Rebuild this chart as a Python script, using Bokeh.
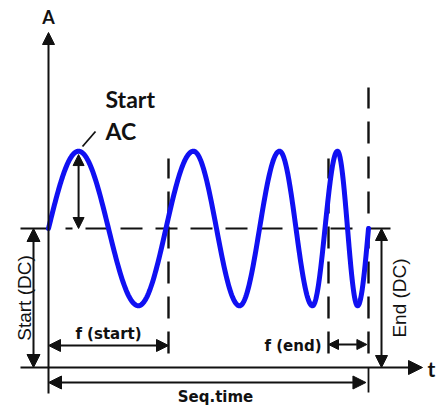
import numpy as np
from bokeh.plotting import figure
from bokeh.models import Range1d, Arrow, NormalHead
from bokeh.core.properties import value
from bokeh.embed import file_html
from bokeh.resources import INLINE

# ---------------- data ----------------
seq_time = 10.0          # sequence time (t units)
start_dc = 5.0           # start DC level (A units)
end_dc = 5.0             # end DC level
start_ac = 2.78          # start AC amplitude
f_start_period = 3.75    # one period at start frequency
f_end_period = 1.25      # one period at end frequency
extrema_t = [0.94, 2.81, 4.53, 5.97, 7.22, 8.25, 9.03, 9.66]   # peaks / troughs of the wave
extrema_sign = [1, -1, 1, -1, 1, -1, 1, -1]
axis_labels = ["A", "t"]
ac_labels = ["Start", "AC"]
dc_labels = ["Start (DC)", "End (DC)"]
time_labels = ["f (start)", "f (end)", "Seq.time"]

# ---------------- layout ----------------
W, H = 437, 406
PX_T, PX_A = 32.0, 27.8
OX, OY = 48, 367          # pixel of the origin inside the figure


def tx(px):
    return (px - OX) / PX_T


def ay(py):
    return (OY - py) / PX_A


x0 = tx(0)
x1 = x0 + W / PX_T
y1 = ay(0)
y0 = y1 - H / PX_A

p = figure(width=W, height=H, x_range=Range1d(x0, x1), y_range=Range1d(y0, y1),
           output_backend="svg", toolbar_location=None,
           x_axis_location=None, y_axis_location=None, min_border=0,
           outline_line_color=None, background_fill_color="white",
           border_fill_color="white")
p.xgrid.visible = False
p.ygrid.visible = False

BLACK = "#111111"
BLUE = "#1010f2"


def head(size):
    return NormalHead(size=size, fill_color=BLACK, line_color=BLACK, line_width=1)


def arrow(xs, ys, xe, ye, size, both=True, lw=2):
    p.add_layout(Arrow(start=head(size) if both else None, end=head(size),
                       x_start=xs, y_start=ys, x_end=xe, y_end=ye,
                       line_color=BLACK, line_width=lw))


# ---------------- wave ----------------
ts, ys = [], []
n = 60
tt = np.linspace(0, extrema_t[0], n)
ts += list(tt)
ys += list(start_dc + start_ac * np.sin(np.pi / 2 * tt / extrema_t[0]))
for i in range(len(extrema_t) - 1):
    ta, tb = extrema_t[i], extrema_t[i + 1]
    tt = np.linspace(ta, tb, n)[1:]
    ts += list(tt)
    ys += list(start_dc + start_ac * extrema_sign[i] * np.cos(np.pi * (tt - ta) / (tb - ta)))
ta = extrema_t[-1]
tt = np.linspace(ta, seq_time, n)[1:]
ts += list(tt)
ys += list(end_dc + start_ac * extrema_sign[-1] * np.cos(np.pi / 2 * (tt - ta) / (seq_time - ta)))

# ---------------- black construction lines ----------------
# DC level dashed
p.line([tx(65), tx(352)], [start_dc, start_dc], line_color=BLACK, line_width=2.2,
       line_dash="22 13", line_dash_offset=15)
# DC ticks
p.segment(x0=[tx(20), seq_time], y0=[start_dc, end_dc], x1=[0, tx(390)], y1=[start_dc, end_dc],
          line_color=BLACK, line_width=2)
# vertical dashed markers
vx = [f_start_period, seq_time - f_end_period, seq_time]
vtop = [ay(158), ay(158), ay(87)]
for x, top in zip(vx, vtop):
    p.line([x, x], [ay(353), top], line_color=BLACK, line_width=2.4, line_dash="22 13")
# seq end tick
p.segment(x0=[seq_time], y0=[0], x1=[seq_time], y1=[ay(392)], line_color=BLACK, line_width=1.8)
# leader for Start AC
p.segment(x0=[tx(82)], y0=[ay(146)], x1=[tx(95)], y1=[ay(131)], line_color=BLACK, line_width=1.8)

# axes
arrow(0, ay(393), 0, ay(32), 12, both=False, lw=2)
arrow(tx(20), 0, tx(422), 0, 14, both=False, lw=2)

# wave on top
p.line(ts, ys, line_color=BLUE, line_width=5, line_join="round", line_cap="round")

# double arrows
arrow(tx(33), 0, tx(33), start_dc, 13)
arrow(tx(381), 0, tx(381), end_dc, 12)
arrow(extrema_t[0], start_dc, extrema_t[0], start_dc + start_ac - 0.12, 11)
arrow(0, ay(345), f_start_period, ay(345), 12)
arrow(seq_time - f_end_period, ay(344), seq_time - 0.05, ay(344), 10)
arrow(0, ay(382), seq_time - 0.08, ay(382), 13)

# ---------------- texts ----------------
p.text(x=[0], y=[ay(16)], text=[axis_labels[0]], text_font=value("Lato"), text_font_style="bold",
       text_font_size="18px", text_align="center", text_baseline="middle", text_color=BLACK)
p.text(x=[tx(427)], y=[ay(368)], text=[axis_labels[1]], text_font=value("Lato"), text_font_style="bold",
       text_font_size="21px", text_align="left", text_baseline="middle", text_color=BLACK)
p.text(x=[tx(105), tx(105)], y=[ay(98), ay(130)], text=ac_labels, text_font=value("Lato"),
       text_font_style="bold", text_font_size="23px", text_align="left", text_baseline="middle",
       text_color=BLACK)
p.text(x=[tx(24), tx(399)], y=[start_dc / 2, end_dc / 2], text=dc_labels, angle=np.pi / 2,
       text_font=value("Liberation Sans"), text_font_size="19px", text_align="center",
       text_baseline="middle", text_color=BLACK)
p.text(x=[f_start_period / 2], y=[ay(333)], text=[time_labels[0]], text_font=value("DejaVu Sans"),
       text_font_style="bold", text_font_size="15px", text_align="center", text_baseline="middle",
       text_color=BLACK)
p.text(x=[tx(321)], y=[ay(345)], text=[time_labels[1]], text_font=value("DejaVu Sans"),
       text_font_style="bold", text_font_size="15px", text_align="right", text_baseline="middle",
       text_color=BLACK)
p.text(x=[tx(215)], y=[ay(396)], text=[time_labels[2]], text_font=value("DejaVu Sans"),
       text_font_style="bold", text_font_size="15px", text_align="center", text_baseline="alphabetic",
       text_color=BLACK)

open("out.html", "w").write(file_html(p, INLINE))
